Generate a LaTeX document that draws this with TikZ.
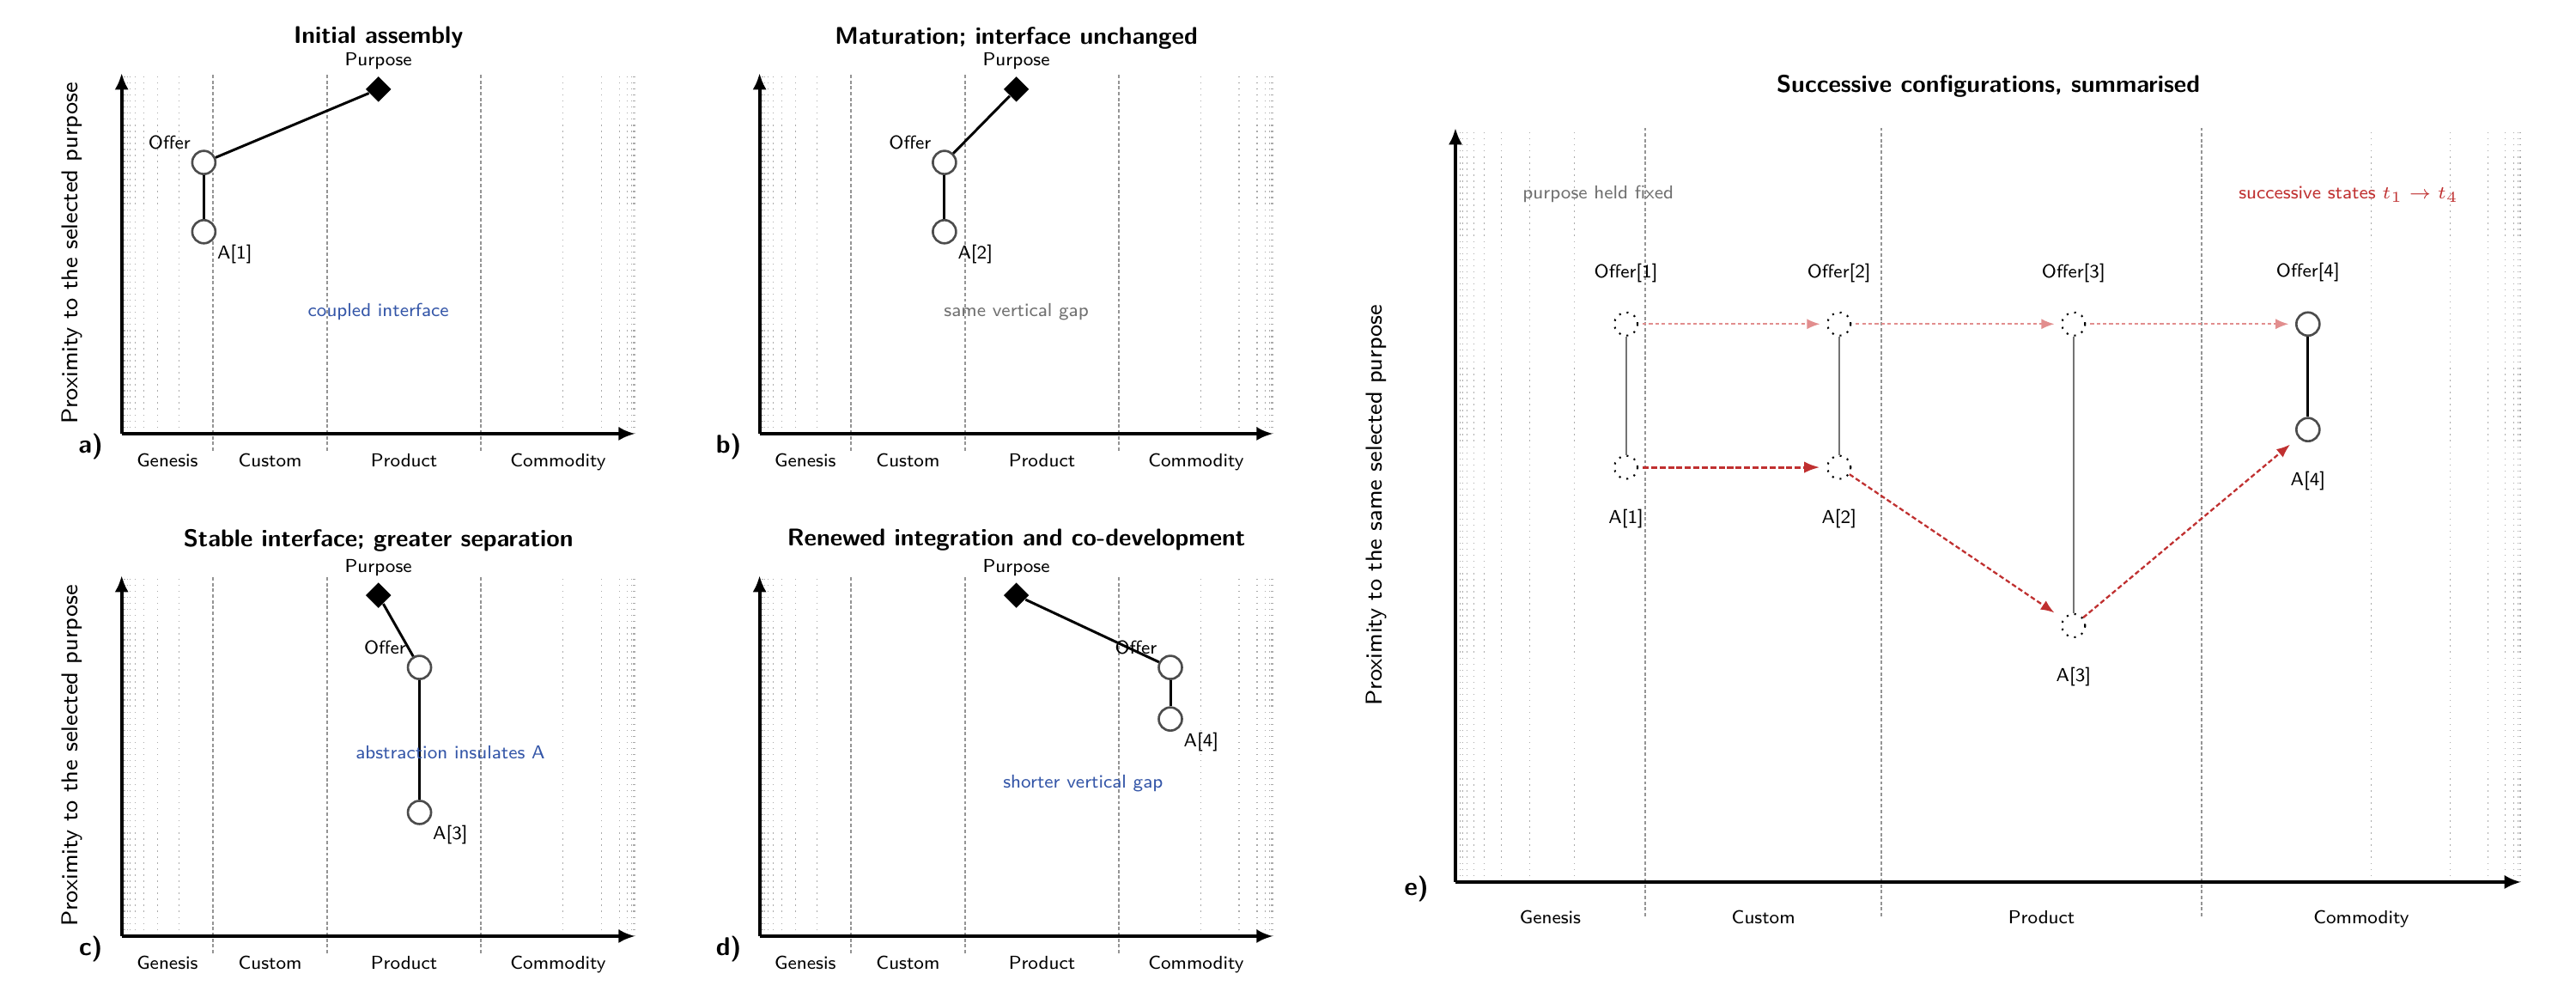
\documentclass[tikz,border=0pt]{standalone}
\usepackage{fontspec}
\usepackage{amssymb}
\usepackage{tikz}
\usetikzlibrary{arrows.meta,shapes.geometric}
\definecolor{noteblue}{RGB}{52,86,168}
\definecolor{notegray}{RGB}{112,112,112}
\definecolor{stepred}{RGB}{192,48,48}
\definecolor{fadedred}{RGB}{226,142,142}
\tikzset{
  font={\sffamily\fontsize{6.2pt}{8}\selectfont},
  faintline/.style={black!33, line width=0.3pt, dash pattern=on 0.4pt off 1.6pt},
  stageline/.style={black!42, line width=0.55pt, dash pattern=on 1.1pt off 0.8pt},
  axisline/.style={line width=1.1pt, -{Latex[length=5.5pt,width=4.6pt]}},
  comp/.style={circle, draw=black!70, line width=0.75pt, fill=white, minimum size=0.27cm},
  ghost/.style={circle, draw=black, line width=0.6pt, dotted, fill=white, minimum size=0.27cm},
  goal/.style={diamond, fill=black, minimum size=0.3cm},
  link/.style={line width=0.85pt},
  tether/.style={black!55, line width=0.55pt},
  fadedstep/.style={fadedred, line width=0.5pt, dash pattern=on 1.2pt off 0.9pt, -{Latex[length=4.3pt,width=3.4pt]}, shorten <=1.4pt, shorten >=2.2pt},
  boldstep/.style={stepred, line width=0.9pt, dash pattern=on 2pt off 0.8pt, -{Latex[length=5.2pt,width=3.8pt]}, shorten <=1.4pt, shorten >=2.2pt},
  redstep/.style={stepred, line width=0.65pt, dash pattern=on 1.6pt off 0.9pt, -{Latex[length=4.5pt,width=3.5pt]}, shorten >=3.5pt},
  paneltitle/.style={font={\sffamily\bfseries\fontsize{8pt}{10}\selectfont}},
  paneltag/.style={font={\sffamily\bfseries\fontsize{8.5pt}{10}\selectfont}},
  ylabel/.style={font={\sffamily\fontsize{7.6pt}{9}\selectfont}, rotate=90},
  label distance=1.8pt
}
\begin{document}
\begin{tikzpicture}
\tikzstyle{every node}+=[inner sep=0pt]
\fill [white] (0,0) rectangle (30,11.68);
\useasboundingbox (0,0) rectangle (30,11.68);
\foreach \ox/\oy/\w/\h/\ext/\base/\panel in {1.417/6.63/5.98cm/4.2cm/0.2cm/0.38cm/a, 8.846/6.63/5.98cm/4.2cm/0.2cm/0.38cm/b, 1.417/0.78/5.98cm/4.2cm/0.2cm/0.38cm/c, 8.846/0.78/5.98cm/4.2cm/0.2cm/0.38cm/d, 16.95/1.41/12.41cm/8.78cm/0.4cm/0.48cm/e}
{
  \begin{scope}[shift={(\ox,\oy)}, x=\w, y=\h]
    \coordinate (origin-\panel) at (0,0);
    \foreach \k in {1,...,8} {
      \draw [faintline] ({0.178*0.625^\k},0) -- ({0.178*0.625^\k},1);
      \draw [faintline] ({1-0.3*0.47^\k},0) -- ({1-0.3*0.47^\k},1);
    }
    \foreach \s in {0.178,0.4,0.7}
      \draw [stageline] ([yshift=-\ext]\s,0) -- (\s,1);
    \draw [axisline] (origin-\panel) -- (1,0);
    \draw [axisline] (origin-\panel) -- (0,1);
    \foreach \stage/\midx in {Genesis/0.089,Custom/0.289,Product/0.55,Commodity/0.85}
      \node [anchor=base] (\stage-\panel) at ([yshift=-\base]\midx,0) {\stage};
  \end{scope}
}
\begin{scope}[shift={(1.417,6.63)}, x=5.98cm, y=4.2cm]
  \node [paneltitle] (titlea) at ([yshift=0.41cm]0.5,1) {Initial assembly};
  \node [goal, label=above:Purpose] (purposea) at (0.5,0.955) {};
  \node [comp, label=above left:Offer] (offera) at (0.16,0.752) {};
  \node [comp, label={below right:A[1]}] (compa) at (0.16,0.56) {};
  \draw [link] (offera) -- (purposea);
  \draw [link] (offera) -- (compa);
  \node [text=noteblue] (notea) at (0.5,0.338) {coupled interface};
  \node [ylabel] (ylabela) at ([xshift=-0.58cm]0,0.5) {Proximity to the selected purpose};
  \node [paneltag] (taga) at ([xshift=-0.36cm,yshift=-0.15cm]0,0) {a)};
\end{scope}
\begin{scope}[shift={(8.846,6.63)}, x=5.98cm, y=4.2cm]
  \node [paneltitle] (titleb) at ([yshift=0.41cm]0.5,1) {Maturation; interface unchanged};
  \node [goal, label=above:Purpose] (purposeb) at (0.5,0.955) {};
  \node [comp, label=above left:Offer] (offerb) at (0.36,0.752) {};
  \node [comp, label={below right:A[2]}] (compb) at (0.36,0.56) {};
  \draw [link] (offerb) -- (purposeb);
  \draw [link] (offerb) -- (compb);
  \node [text=notegray] (noteb) at (0.5,0.338) {same vertical gap};
  \node [paneltag] (tagb) at ([xshift=-0.36cm,yshift=-0.15cm]0,0) {b)};
\end{scope}
\begin{scope}[shift={(1.417,0.78)}, x=5.98cm, y=4.2cm]
  \node [paneltitle] (titlec) at ([yshift=0.41cm]0.5,1) {Stable interface; greater separation};
  \node [goal, label=above:Purpose] (purposec) at (0.5,0.945) {};
  \node [comp, label=above left:Offer] (offerc) at (0.58,0.745) {};
  \node [comp, label={below right:A[3]}] (compc) at (0.58,0.343) {};
  \draw [link] (offerc) -- (purposec);
  \draw [link] (offerc) -- (compc);
  \node [text=noteblue] (notec) at (0.64,0.51) {abstraction insulates A};
  \node [ylabel] (ylabelc) at ([xshift=-0.58cm]0,0.5) {Proximity to the selected purpose};
  \node [paneltag] (tagc) at ([xshift=-0.36cm,yshift=-0.15cm]0,0) {c)};
\end{scope}
\begin{scope}[shift={(8.846,0.78)}, x=5.98cm, y=4.2cm]
  \node [paneltitle] (titled) at ([yshift=0.41cm]0.5,1) {Renewed integration and co-development};
  \node [goal, label=above:Purpose] (purposed) at (0.5,0.945) {};
  \node [comp, label=above left:Offer] (offerd) at (0.80,0.745) {};
  \node [comp, label={below right:A[4]}] (compd) at (0.80,0.602) {};
  \draw [link] (offerd) -- (purposed);
  \draw [link] (offerd) -- (compd);
  \node [text=noteblue] (noted) at (0.63,0.424) {shorter vertical gap};
  \node [paneltag] (tagd) at ([xshift=-0.36cm,yshift=-0.15cm]0,0) {d)};
\end{scope}
\begin{scope}[shift={(16.95,1.41)}, x=12.41cm, y=8.78cm, label distance=9.5pt]
  \node [paneltitle] (titlee) at ([yshift=0.49cm]0.5,1) {Successive configurations, summarised};
  \node [ghost, label={above:Offer[1]}] (offer1) at (0.16,0.74) {};
  \node [ghost, label={above:Offer[2]}] (offer2) at (0.36,0.74) {};
  \node [ghost, label={above:Offer[3]}] (offer3) at (0.58,0.74) {};
  \node [comp, label={above:Offer[4]}] (offer4) at (0.80,0.74) {};
  \node [ghost, label={below:A[1]}] (comp1) at (0.16,0.55) {};
  \node [ghost, label={below:A[2]}] (comp2) at (0.36,0.55) {};
  \node [ghost, label={below:A[3]}] (comp3) at (0.58,0.34) {};
  \node [comp, label={below:A[4]}] (comp4) at (0.80,0.60) {};
  \draw [tether] (offer1) -- (comp1);
  \draw [tether] (offer2) -- (comp2);
  \draw [tether] (offer3) -- (comp3);
  \draw [link] (offer4) -- (comp4);
  \draw [fadedstep] (offer1) -- (offer2);
  \draw [fadedstep] (offer2) -- (offer3);
  \draw [fadedstep] (offer3) -- (offer4);
  \draw [boldstep] (comp1) -- (comp2);
  \draw [redstep] (comp2) -- (comp3);
  \draw [redstep] (comp3) -- (comp4);
  \node [text=notegray] (fixednote) at (0.134,0.912) {purpose held fixed};
  \node [text=stepred] (statesnote) at (0.838,0.912) {successive states $t_1 \to t_4$};
  \node [ylabel] (ylabele) at ([xshift=-0.92cm]0,0.5) {Proximity to the same selected purpose};
  \node [paneltag] (tage) at ([xshift=-0.455cm,yshift=-0.085cm]0,0) {e)};
\end{scope}
\end{tikzpicture}
\end{document}
